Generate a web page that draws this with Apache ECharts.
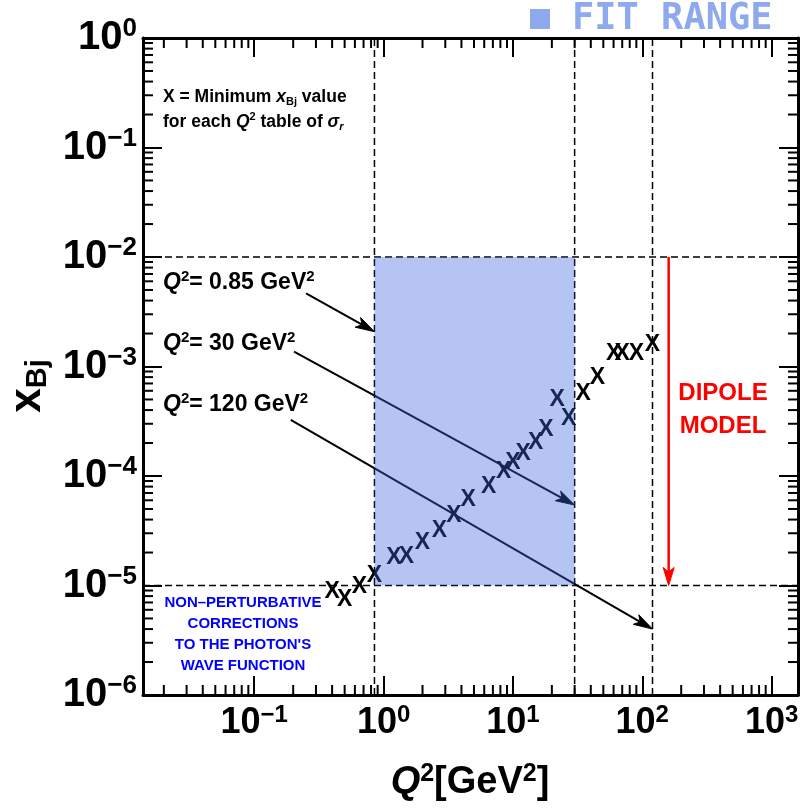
<!DOCTYPE html>
<html><head><meta charset="utf-8">
<script src="https://cdn.jsdelivr.net/npm/echarts@6/dist/echarts.min.js"></script>
<style>html,body{margin:0;padding:0;background:#fff}#c{width:802px;height:808px}</style>
</head><body><div id="c"></div>
<script>
// ---- data ----
const q2Values = [0.4, 0.5, 0.65, 0.85, 1.2, 1.5, 2, 2.7, 3.5, 4.5, 6.5, 8.5, 10, 12, 15, 18, 22, 27, 35, 45, 60, 70, 90, 120];
const xBjMin   = [8.8e-6, 7.4e-6, 9.8e-6, 1.22e-5, 1.8e-5, 1.83e-5, 2.46e-5, 3.15e-5, 4.36e-5, 6.1e-5, 8.0e-5, 1.09e-4, 1.32e-4, 1.59e-4, 2.0e-4, 2.63e-4, 5.0e-4, 3.32e-4, 5.6e-4, 7.85e-4, 1.3e-3, 1.3e-3, 1.3e-3, 1.59e-3];
const xRange = [0.0138, 1600];
const yRange = [1e-6, 1];
const fitQ2 = [0.85, 30];
const fitX = [1e-5, 1e-2];
const guideQ2 = [0.85, 30, 120];
const guideX = [1e-2, 1e-5];
const dipoleArrow = [[160, 1e-2, 160, 1e-5]];
const labelArrows = [
  [0.2516, 4.66e-3, 0.85, 2.08e-3],
  [0.203, 1.365e-3, 30, 5.43e-5],
  [0.1915, 3.25e-4, 120, 4.0e-6]
];
const q2LabelValues = ['0.85', '30', '120'];

// ---- helpers ----
const FONT = "'Liberation Sans', Arial, Helvetica, sans-serif";
function decadeLabel(v) {
  const l = Math.log10(v), e = Math.round(l);
  if (Math.abs(l - e) > 1e-6) return '';
  const s = e < 0 ? '\u2212' + (-e) : String(e);
  return '{b|10}{s|' + s + '}';
}
function minorTicks(lo, hi) {
  const out = [];
  for (let k = Math.floor(Math.log10(lo)); k <= Math.ceil(Math.log10(hi)); k++) {
    for (let m = 2; m <= 9; m++) {
      const v = m * Math.pow(10, k);
      if (v > lo * 1.0001 && v < hi * 0.9999) out.push(v);
    }
  }
  return out;
}
const xMinor = minorTicks(xRange[0], xRange[1]);
const yMinor = minorTicks(yRange[0], yRange[1]);

function arrowRender(color, width, headLen, headHalf) {
  return function (params, api) {
    const p1 = api.coord([api.value(0), api.value(1)]);
    const p2 = api.coord([api.value(2), api.value(3)]);
    const dx = p2[0] - p1[0], dy = p2[1] - p1[1];
    const L = Math.hypot(dx, dy), ux = dx / L, uy = dy / L, nx = -uy, ny = ux;
    const bx = p2[0] - ux * headLen, by = p2[1] - uy * headLen;
    const mx = p2[0] - ux * headLen * 0.75, my = p2[1] - uy * headLen * 0.75;
    return {
      type: 'group',
      children: [
        { type: 'line', shape: { x1: p1[0], y1: p1[1], x2: mx, y2: my }, style: { stroke: color, lineWidth: width } },
        { type: 'polygon', shape: { points: [[p2[0], p2[1]], [bx + nx * headHalf, by + ny * headHalf], [mx, my], [bx - nx * headHalf, by - ny * headHalf]] }, style: { fill: color, stroke: color, lineWidth: 1 } }
      ]
    };
  };
}

const guideLines = guideQ2.map(q => [q, yRange[0], q, yRange[1]])
  .concat(guideX.map(x => [xRange[0], x, xRange[1], x]));

const labelRichY = {
  b: { fontSize: 40, fontWeight: 'bold', fontFamily: FONT, color: '#000', lineHeight: 44 },
  s: { fontSize: 26, fontWeight: 'bold', fontFamily: FONT, color: '#000', verticalAlign: 'top', lineHeight: 26 }
};
const labelRichX = {
  b: { fontSize: 36, fontWeight: 'bold', fontFamily: FONT, color: '#000', lineHeight: 40 },
  s: { fontSize: 24, fontWeight: 'bold', fontFamily: FONT, color: '#000', verticalAlign: 'top', lineHeight: 24 }
};
const axisLineStyle = { color: '#000', width: 3 };
const tickStyle = { show: true, inside: true, length: 19, lineStyle: { color: '#000', width: 2 } };

const txtRich = (size) => ({
  n: { fontSize: size, fontWeight: 'bold', fontFamily: FONT, color: '#000', lineHeight: size + 4 },
  i: { fontSize: size, fontWeight: 'bold', fontStyle: 'italic', fontFamily: FONT, color: '#000', lineHeight: size + 4 },
  sup: { fontSize: Math.round(size * 0.65), fontWeight: 'bold', fontFamily: FONT, color: '#000', verticalAlign: 'top', lineHeight: Math.round(size * 0.65) },
  sub: { fontSize: Math.round(size * 0.65), fontWeight: 'bold', fontFamily: FONT, color: '#000', verticalAlign: 'bottom', lineHeight: Math.round(size * 0.65) },
  subi: { fontSize: Math.round(size * 0.65), fontWeight: 'bold', fontStyle: 'italic', fontFamily: FONT, color: '#000', verticalAlign: 'bottom', lineHeight: Math.round(size * 0.65) }
});

const chart = echarts.init(document.getElementById('c'), null, { renderer: 'canvas' });
chart.setOption({
  animation: false,
  backgroundColor: '#fff',
  grid: { left: 143, right: 4, top: 38, bottom: 113, containLabel: false, outerBoundsMode: 'none' },
  xAxis: [
    { type: 'log', logBase: 10, min: xRange[0], max: xRange[1], position: 'bottom',
      axisLine: { show: true, lineStyle: axisLineStyle }, axisTick: tickStyle, splitLine: { show: false },
      axisLabel: { show: true, margin: 8, formatter: decadeLabel, rich: labelRichX, hideOverlap: false } },
    { type: 'log', logBase: 10, min: xRange[0], max: xRange[1], position: 'top',
      axisLine: { show: true, lineStyle: axisLineStyle }, axisTick: tickStyle, splitLine: { show: false },
      axisLabel: { show: false } }
  ],
  yAxis: [
    { type: 'log', logBase: 10, min: yRange[0], max: yRange[1], position: 'left', splitNumber: 6,
      axisLine: { show: true, lineStyle: axisLineStyle }, axisTick: tickStyle, splitLine: { show: false },
      axisLabel: { show: true, margin: 6, formatter: decadeLabel, rich: labelRichY, showMinLabel: true, showMaxLabel: true, hideOverlap: false } },
    { type: 'log', logBase: 10, min: yRange[0], max: yRange[1], position: 'right', splitNumber: 6,
      axisLine: { show: true, lineStyle: axisLineStyle }, axisTick: tickStyle, splitLine: { show: false },
      axisLabel: { show: false } }
  ],
  series: [
    { // guide dashed lines
      type: 'custom', z: 2, clip: false, encode: { x: [0, 2], y: [1, 3] },
      renderItem: function (params, api) {
        const p1 = api.coord([api.value(0), api.value(1)]);
        const p2 = api.coord([api.value(2), api.value(3)]);
        return { type: 'line', shape: { x1: p1[0], y1: p1[1], x2: p2[0], y2: p2[1] }, style: { stroke: '#000', lineWidth: 1.5, lineDash: [7, 4] } };
      },
      data: guideLines
    },
    { // minimum x markers
      type: 'custom', z: 3, clip: false, encode: { x: 0, y: 1 },
      renderItem: function (params, api) {
        const c = api.coord([api.value(0), api.value(1)]);
        return { type: 'text', x: c[0], y: c[1], style: { text: 'X', fontSize: 23, fontFamily: FONT, fontWeight: 'bold', fill: '#000', align: 'center', verticalAlign: 'middle' } };
      },
      data: q2Values.map((q, i) => [q, xBjMin[i]])
    },
    { // label arrows
      type: 'custom', z: 4, clip: false, encode: { x: [0, 2], y: [1, 3] },
      renderItem: arrowRender('#000', 2, 19, 5.5),
      data: labelArrows
    },
    { // dipole arrow
      type: 'custom', z: 4, clip: false, encode: { x: [0, 2], y: [1, 3] },
      renderItem: arrowRender('#ff0000', 2.5, 18, 5.5),
      data: dipoleArrow
    },
    { // fit range overlay
      type: 'custom', z: 6, clip: false, encode: { x: [0, 2], y: [1, 3] },
      renderItem: function (params, api) {
        const a = api.coord([api.value(0), api.value(3)]);
        const b = api.coord([api.value(2), api.value(1)]);
        return { type: 'rect', shape: { x: a[0], y: a[1], width: b[0] - a[0], height: b[1] - a[1] }, style: { fill: 'rgba(60,100,220,0.38)' } };
      },
      data: [[fitQ2[0], fitX[0], fitQ2[1], fitX[1]]]
    },
    { // x minor ticks (bottom & top)
      type: 'custom', z: 7, clip: false, encode: { x: 0, y: 1 },
      renderItem: function (params, api) {
        const v = api.value(0);
        const b = api.coord([v, yRange[0]]), t = api.coord([v, yRange[1]]);
        const st = { stroke: '#000', lineWidth: 2 };
        return { type: 'group', children: [
          { type: 'line', shape: { x1: b[0], y1: b[1], x2: b[0], y2: b[1] - 10 }, style: st },
          { type: 'line', shape: { x1: t[0], y1: t[1], x2: t[0], y2: t[1] + 10 }, style: st }
        ] };
      },
      data: xMinor.map(v => [v, 1e-3])
    },
    { // y minor ticks (left & right)
      type: 'custom', z: 7, clip: false, encode: { x: 0, y: 1 },
      renderItem: function (params, api) {
        const v = api.value(1);
        const l = api.coord([xRange[0], v]), r = api.coord([xRange[1], v]);
        const st = { stroke: '#000', lineWidth: 2 };
        return { type: 'group', children: [
          { type: 'line', shape: { x1: l[0], y1: l[1], x2: l[0] + 10, y2: l[1] }, style: st },
          { type: 'line', shape: { x1: r[0], y1: r[1], x2: r[0] - 10, y2: r[1] }, style: st }
        ] };
      },
      data: yMinor.map(v => [1, v])
    }
  ],
  graphic: [
    { type: 'rect', shape: { x: 530, y: 9, width: 20, height: 20 }, style: { fill: '#8fa9ee' } },
    { type: 'text', x: 572, y: 19, style: { text: 'FIT RANGE', fontSize: 37, fontWeight: 'bold', fontFamily: "'DejaVu Sans Mono', monospace", fill: '#8fa9ee', verticalAlign: 'middle' } },
    { type: 'text', x: 163, y: 97, style: { text: '{n|X = Minimum }{i|x}{sub|Bj}{n| value}', rich: txtRich(17.5), verticalAlign: 'middle' } },
    { type: 'text', x: 163, y: 122, style: { text: '{n|for each }{i|Q}{sup|2}{n| table of }{i|\u03c3}{subi|r}', rich: txtRich(17.5), verticalAlign: 'middle' } },
    { type: 'text', x: 163, y: 283, style: { text: '{i|Q}{sup|2}{n|= ' + q2LabelValues[0] + ' GeV}{sup|2}', rich: txtRich(23), verticalAlign: 'middle' } },
    { type: 'text', x: 163, y: 344, style: { text: '{i|Q}{sup|2}{n|= ' + q2LabelValues[1] + ' GeV}{sup|2}', rich: txtRich(23), verticalAlign: 'middle' } },
    { type: 'text', x: 163, y: 405, style: { text: '{i|Q}{sup|2}{n|= ' + q2LabelValues[2] + ' GeV}{sup|2}', rich: txtRich(23), verticalAlign: 'middle' } },
    { type: 'text', x: 723, y: 410, style: { text: 'DIPOLE\nMODEL', fontSize: 24, fontWeight: 'bold', fontFamily: FONT, fill: '#ff0000', align: 'center', verticalAlign: 'middle', lineHeight: 33 } },
    { type: 'text', x: 243, y: 634.5, style: { text: 'NON\u2013PERTURBATIVE\nCORRECTIONS\nTO THE PHOTON\'S\nWAVE FUNCTION', fontSize: 15, fontWeight: 'bold', fontFamily: FONT, fill: '#0000ff', align: 'center', verticalAlign: 'middle', lineHeight: 21 } },
    { type: 'text', x: 470, y: 783, style: { text: '{i|Q}{sup|2}{n|[GeV}{sup|2}{n|]}', rich: txtRich(38), align: 'center', verticalAlign: 'middle' } },
    { type: 'group', x: 28, y: 386, rotation: Math.PI / 2, children: [
      { type: 'text', x: 0, y: 0, style: { text: '{n|x}{sub|Bj}', rich: txtRich(44), align: 'center', verticalAlign: 'middle' } }
    ] }
  ]
});
</script>
</body></html>
